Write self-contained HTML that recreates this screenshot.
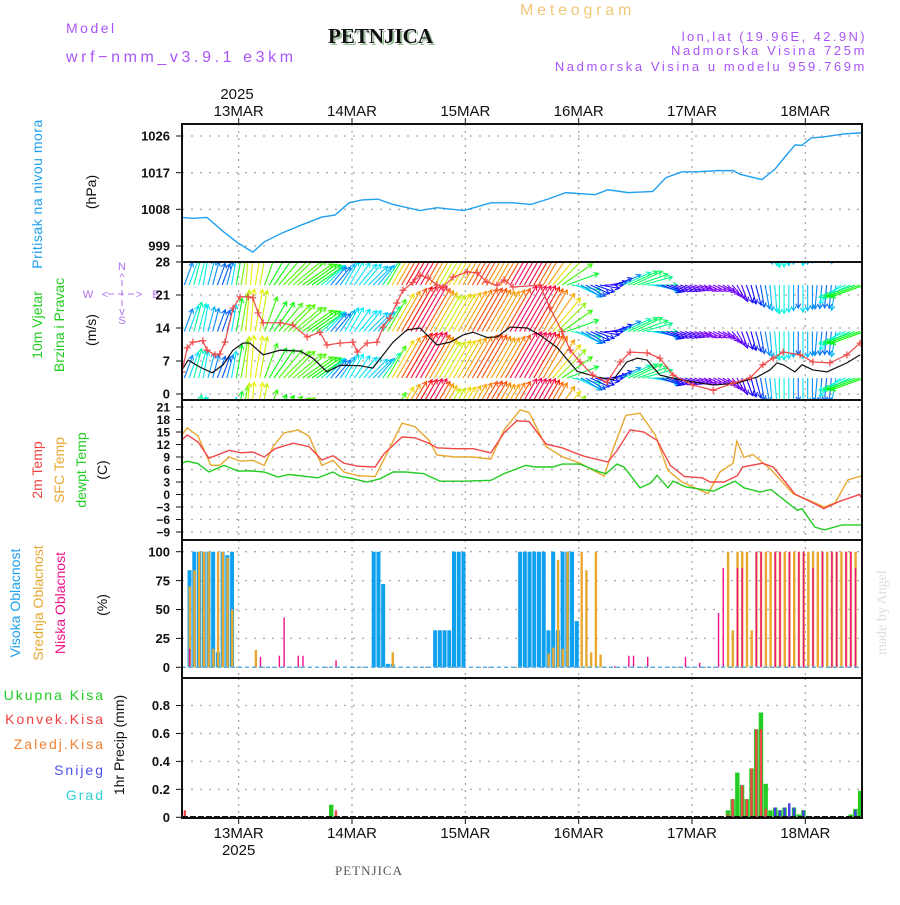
<!DOCTYPE html>
<html><head><meta charset="utf-8">
<style>
html,body{margin:0;padding:0;background:#fff;}
body{width:900px;height:900px;overflow:hidden;font-family:"Liberation Sans",sans-serif;}
svg text{font-family:"Liberation Sans",sans-serif;}
</style></head>
<body>
<svg id="chart" width="900" height="900" viewBox="0 0 900 900" xmlns="http://www.w3.org/2000/svg">
<defs>
<clipPath id="c1"><rect x="182" y="124" width="680" height="138"/></clipPath>
<clipPath id="c2"><rect x="182" y="262" width="680" height="138"/></clipPath>
<clipPath id="c3"><rect x="182" y="400" width="680" height="140"/></clipPath>
<clipPath id="c4"><rect x="182" y="540" width="680" height="138"/></clipPath>
<clipPath id="c5"><rect x="182" y="678" width="680" height="140"/></clipPath>
</defs>
<g>
<text x="520" y="15" font-size="16" fill="#f0c878" letter-spacing="3.8">Meteogram</text>
<text x="66" y="33" font-size="14" fill="#a855f7" letter-spacing="2.5">Model</text>
<text x="66" y="62" font-size="16" fill="#a855f7" letter-spacing="3.6">wrf−nmm_v3.9.1 e3km</text>
<text x="330" y="45" font-size="21" font-weight="bold" fill="#9fc09f" style="font-family:'Liberation Serif',serif">PETNJICA</text>
<text x="328" y="43" font-size="21" font-weight="bold" fill="#111" style="font-family:'Liberation Serif',serif">PETNJICA</text>
<text x="867" y="41" font-size="13" fill="#a855f7" text-anchor="end" letter-spacing="2.4">lon,lat (19.96E, 42.9N)</text>
<text x="867" y="55" font-size="13" fill="#a855f7" text-anchor="end" letter-spacing="2.6">Nadmorska Visina 725m</text>
<text x="867" y="71" font-size="13" fill="#a855f7" text-anchor="end" letter-spacing="2.6">Nadmorska Visina u modelu 959.769m</text>
<text x="237" y="99" font-size="15" fill="#111" text-anchor="middle">2025</text>
<text x="369" y="875" font-size="13" fill="#555" text-anchor="middle" style="font-family:'Liberation Serif',serif" letter-spacing="1">PETNJICA</text>
<text transform="translate(886,655) rotate(-90)" font-size="14" fill="#ddd" style="font-family:'Liberation Serif',serif">made by Angel</text>
</g>
<g>
<text transform="translate(42,194) rotate(-90)" font-size="14" fill="#1ea0f0" text-anchor="middle" letter-spacing="0.5">Pritisak na nivou mora</text>
<text transform="translate(96,192) rotate(-90)" font-size="14" fill="#111" text-anchor="middle">(hPa)</text>
<text transform="translate(42,325) rotate(-90)" font-size="14" fill="#22cc22" text-anchor="middle">10m Vjetar</text>
<text transform="translate(64,325) rotate(-90)" font-size="14" fill="#22cc22" text-anchor="middle">Brzina i Pravac</text>
<text transform="translate(96,330) rotate(-90)" font-size="14" fill="#111" text-anchor="middle">(m/s)</text>
<g fill="#b070f0" font-size="11" text-anchor="middle" stroke="none">
<text x="122" y="270">N</text><text x="122" y="324">S</text><text x="88" y="298">W</text><text x="156" y="298">E</text>
<text x="122" y="281">^</text><text x="122" y="315">v</text><text x="105" y="298">&lt;</text><text x="139" y="298">&gt;</text>
<line x1="122" y1="280" x2="122" y2="310" stroke="#b070f0" stroke-dasharray="6,4"/>
<line x1="108" y1="294" x2="136" y2="294" stroke="#b070f0" stroke-dasharray="6,4"/>
</g>
<text transform="translate(42,470) rotate(-90)" font-size="14" fill="#f04040" text-anchor="middle">2m Temp</text>
<text transform="translate(64,470) rotate(-90)" font-size="14" fill="#e8a830" text-anchor="middle">SFC Temp</text>
<text transform="translate(86,470) rotate(-90)" font-size="14" fill="#22cc22" text-anchor="middle">dewpt Temp</text>
<text transform="translate(107,470) rotate(-90)" font-size="14" fill="#111" text-anchor="middle">(C)</text>
<text transform="translate(20,603) rotate(-90)" font-size="14" fill="#1ea0f0" text-anchor="middle">Visoka Oblacnost</text>
<text transform="translate(43,603) rotate(-90)" font-size="14" fill="#e8a830" text-anchor="middle">Srednja Oblacnost</text>
<text transform="translate(65,603) rotate(-90)" font-size="14" fill="#f0108a" text-anchor="middle">Niska Oblacnost</text>
<text transform="translate(107,605) rotate(-90)" font-size="14" fill="#111" text-anchor="middle">(%)</text>
<text x="105" y="700" font-size="14" fill="#22cc22" text-anchor="end" letter-spacing="2">Ukupna Kisa</text>
<text x="105" y="724" font-size="14" fill="#f04040" text-anchor="end" letter-spacing="2">Konvek.Kisa</text>
<text x="105" y="749" font-size="14" fill="#f08030" text-anchor="end" letter-spacing="2">Zaledj.Kisa</text>
<text x="105" y="775" font-size="14" fill="#5050f0" text-anchor="end" letter-spacing="2">Snijeg</text>
<text x="105" y="800" font-size="14" fill="#30d0d0" text-anchor="end" letter-spacing="2">Grad</text>
<text transform="translate(124,745) rotate(-90)" font-size="14" fill="#111" text-anchor="middle">1hr Precip (mm)</text>
</g>
<g id="plots"></g>
</svg>
<script>
// ---------- data ----------
const dayLabels = ["13MAR","14MAR","15MAR","16MAR","17MAR","18MAR"];
const dayHours = [12,36,60,84,108,132];
const presTicks = [999,1008,1017,1026];
const windTicks = [0,7,14,21,28];
const tempTicks = [-9,-6,-3,0,3,6,9,12,15,18,21];
const cloudTicks = [0,25,50,75,100];
const precipTicks = [0,0.2,0.4,0.6,0.8];

const presHours = [0,2.3,5.3,8.9,11.9,15,17.4,21.2,25.4,29.6,32.4,35.4,38.1,41.5,44.7,50.4,54,59.7,65.4,70.1,73.9,77.7,81.3,87.5,90.2,94.5,99.7,102.5,105.9,109.1,113.3,116.7,118.2,122.8,125.6,127.5,129.8,131.3,133.2,136,140.2,144];
const presVals = [1006,1005.8,1006,1002.4,999.7,997.5,1000,1002.2,1004.2,1006.1,1006.6,1009.6,1010.3,1010.5,1009.2,1007.7,1008.4,1007.7,1009.6,1009.6,1009.2,1010.6,1012.1,1011.6,1012.8,1012.1,1012.4,1015.8,1017.2,1017.2,1017.5,1017.5,1016.6,1015.3,1017.9,1020.6,1023.8,1023.7,1025.5,1025.8,1026.5,1026.8];

const speedHours = [0,1.3,3.8,6.4,8.7,10.8,12.9,14.4,17.2,20.8,25,27.7,30.7,33.5,37.7,40.4,42.6,44.7,47.6,50.4,52.5,54,56.8,59.5,61.6,64.6,66.7,69.5,73.1,75.8,79.4,83.7,87.9,91.3,94.2,96.4,98.5,101.2,105.5,112.5,117.5,121.8,124.5,126,127.3,129.8,131.3,133.6,136.6,140.8,143.6];
const speedVals = [5.1,7.2,5.7,4.5,6.2,9.3,10.8,10.8,8.3,9.3,9.1,7.6,4.7,6.1,6,5.5,8.3,11,13.6,14,11.9,10.4,11,12.5,13.1,12,12.1,14.2,14,12.5,9.9,4.8,3.6,3,6.8,7.6,7.2,4,3,1.9,2.3,3.6,5.1,6.6,6.2,4.7,6.2,5.1,4.7,6.6,8.3];
const gustHours = [0,1.1,2.3,4.4,5.3,7,8,9.1,10.8,12.3,14,15,16.1,17.2,20.8,23.5,26.5,29.2,30.7,33.5,36.2,37.1,39.2,41.3,42.6,44,45.5,46.8,48.9,50.4,52.1,54,55.3,57.4,60.4,62.5,64.6,66.7,68.2,70.1,75.8,77.9,80.5,82.2,84.3,87,90,92.8,94.9,98.5,101.2,104,108.2,112.5,116.7,120.3,123,125.2,127.3,130.9,133.6,137.2,140.8,143.6];
const gustVals = [4.7,9.8,11,11.3,9.3,8.3,8.5,11,18.2,20.6,20.6,20.4,17.2,15.1,15.1,14.6,12.1,13.1,10.4,10.8,11,8.9,10.8,11,14.2,16.1,19.3,22,23.7,25.2,24.6,23.1,22.7,24.8,25.9,25.7,23.7,23.1,24.2,22.7,23.1,18.3,13.2,9.3,6.8,4,2.5,6.8,8.9,8.7,7.6,4,1.9,0.8,2.3,3.4,6.2,7.6,8.9,8.3,6.8,6.6,8.3,10.8];

// hourly arrow data (speed m/s, direction toward, degrees clockwise from north)
const arrowSpd = [5,6,7,6.5,6,5.5,5,4.7,4.5,5,6, 8,9.5,10.5,10.8,10.8,10.5,9,8.3,8.5,9, 9.3,9.3,9.2,9.1,9,8.8,8.5,8,7,6, 5,4.8,5.5,6,6.1,6,6,6,5.8,5.6,5.5, 7,9,11,12,13,13.6,13.8,14,14, 13,12.2,11.5,10.5,10.5,11,11,11.5,12,12.5, 13,13.1,13,12.5,12,12,12.5,13,14,14.2, 14,14,14,13.5,12.8,12.5,12,11,10,9, 8,7,6,5,4.5,4,3.8,3.6,3.3,3, 3.5,5,6.8,7.5,7.6,7.5,7.2,7,6,5, 4,3.5,3,3,3,2.8,2.5,2.2,2,1.9, 1.9,1.9,2,2.1,2.2,2.3,2.5,3,3.4,3.6, 4,4.5,5,5.5,6,6.5,6.4,6,5.5,4.7, 6,5.5,5.1,5,4.9,4.7,4.8,5.5,6.2,6.6, 7,7.6,8.3,8.5];
const arrowDir = [20,20,15,15,10,15,15,20,20,15,10, 10,10,5,5,10,10,20,30,35,40, 45,45,50,50,55,55,55,55,50,45, 40,40,35,30,30,35,40,40,45,45,40, 35,30,30,30,30,30,30,30,30, 30,30,30,30,30,30,30,30,30,30, 30,30,30,30,30,30,30,30,30,30, 30,30,30,30,30,30,35,40,45,55, 70,100,115,120,120,115,110,100,90,80, 70,65,65,65,65,70,75,90,100,105, 110,110,110,110,110,110,110,110,110,115, 115,115,115,120,130,140,150,160,160,165, 165,170,170,175,175,180,180,180,180,180, 180,180,180,185,185,185,185,190,230,245, 245,250,250,250];

const t2Hours = [0,1.1,3.4,5.7,10,12.5,15,17.4,19.7,23.5,26.9,29.6,32,34.3,37.3,40.9,42.8,46.6,49.3,52.3,54,57.8,61.6,65.4,68.2,70.9,73.5,77.1,80.5,83.2,85.1,90.2,92.1,94.9,97.8,100.6,103.4,106.4,110.2,111.8,114.8,117.6,118.7,122.9,125.2,129.8,133.6,135.9,139.1,143.5,144];
const t2Vals = [13.1,14.3,12.6,8.7,10.6,10,10.2,9,11,12.3,11.5,8.3,9.3,7.5,6.8,6.6,9.8,13.8,13.6,12.3,11.2,11,11,10,14.8,17.7,17.5,12.1,11.2,10,9.2,7.8,10.5,15.5,15,13,7,4.3,4,3,3,4.5,6.6,7.5,6.6,0.1,-2,-3.4,-1.7,0,-1];
const sfcHours = [0,1.1,3.4,6.1,8,10,12.3,15,17.4,19.3,21.6,24.6,26.9,29.6,32,34.3,37.3,40.9,42.8,46.6,49.3,52.3,54,57.8,61.6,65.4,68.2,71.6,73.5,77.1,80.5,84.3,89.4,91.3,94,97,100.2,102.9,105.9,111.4,113.9,116.7,117.5,119,120.9,124.7,129.4,133.2,136,138.3,141,144];
const sfcVals = [14.3,16,14,7,7,9,8,8.2,7,11.5,14.8,15.5,14,7,8.2,5.4,4.5,4.3,8.5,17.1,16.3,13,9.5,9,9,8.5,15.5,20.3,19.7,11.5,9.1,7.5,4.4,11,19,19.5,14.3,5.8,3,0.2,5.4,7.5,12.8,8.9,9.6,6,0.2,-1.6,-3,-2,3.5,4.5];
const dewHours = [0,1.1,3.4,5.7,8.9,11.9,14.2,17.4,20.3,22.7,28.8,32,33.5,36.2,39.2,42,44.7,47.4,51.2,54.6,59.7,65.4,68.2,72.8,74.8,78.6,80.5,84.3,87.9,89.8,92.1,93.6,97,99.3,100.6,102.9,104,106.7,112.5,117.1,119,122.4,124.7,130.3,131.3,134,136,139.8,144];
const dewVals = [7.5,8,7.4,5.4,7,5.6,5.7,5.4,4.2,4.8,4,5.4,4.4,3.8,3,3.8,5.4,5.4,5,3.2,3.2,3.4,5,7,6.6,6.6,7.3,7.3,5.6,5,7.3,6.6,1.6,2.8,4.6,1.6,3.2,1.8,0.8,3.2,1.6,0.6,1.2,-3.8,-3.4,-7.8,-8.5,-7.3,-7.3];

// hourly cloud cover (%) index 0..143
const highCloud = [0,84,100,100,100,100,100,13,100,97,100,0,0,0,0,0,0,0,0,0,0,0,0,0,0,0,0,0,0,0,0,0,0,0,0,0,0,0,0,0,100,100,72,3,3,0,0,0,0,0,0,0,0,32,32,32,32,100,100,100,0,0,0,0,0,0,0,0,0,0,0,100,100,100,100,100,100,32,100,32,100,100,100,40,0,0,0,0,0,0,0,0,0,0,0,0,0,0,0,0,0,0,0,0,0,0,0,0,0,0,0,0,0,0,0,0,0,0,0,0,0,0,0,0,0,0,0,0,0,0,0,0,0,0,0,0,0,0,0,0,0,0,0,0];
const midCloud = [0,70,84,100,100,100,16,100,100,95,50,0,0,0,0,15,0,0,0,0,0,0,0,0,0,0,0,0,0,0,0,0,0,0,0,0,0,0,0,0,0,0,0,0,13,0,0,0,0,0,0,0,0,0,0,0,0,0,0,0,0,0,0,0,0,0,0,0,0,0,0,0,0,0,0,0,0,12,17,93,16,100,0,0,100,84,13,100,11,0,0,0,0,0,0,0,0,0,0,0,0,0,0,0,0,0,0,0,0,0,0,0,0,0,0,100,32,100,100,100,32,100,100,100,100,100,100,100,100,100,100,100,100,100,100,100,100,100,100,100,100,100,100];
const lowCloud = [0,16,0,0,0,0,0,0,0,0,0,0,0,0,0,0,9,0,0,0,10,43,0,0,10,10,0,0,0,0,0,0,6,0,0,0,0,0,0,0,0,0,0,0,0,0,0,0,0,0,0,0,0,0,0,0,0,0,0,0,0,0,0,0,0,0,0,0,0,0,0,0,0,0,0,0,0,0,0,0,0,0,0,0,0,0,0,0,0,0,0,1,0,0,10,10,0,0,9,0,0,0,0,0,0,0,9,0,0,4,0,0,0,47,86,0,0,86,86,0,0,100,100,0,0,100,100,0,100,0,100,100,0,86,0,100,0,100,100,0,100,100,86,0];

// hourly precipitation (mm)
const precipHoursIdx = [0,31,32,115,116,117,118,119,120,121,122,123,124,125,126,127,128,129,130,131,132,141,142,143];
const totalPrecip = [0,0.09,0,0.05,0.13,0.32,0.23,0.13,0.35,0.63,0.75,0.24,0.05,0.07,0.05,0.07,0,0.07,0.02,0.05,0.01,0.02,0.06,0.19];
const convPrecip = [0.05,0,0.05,0.02,0.13,0,0.23,0.13,0.35,0.63,0.63,0.06,0,0,0,0,0,0,0,0,0,0,0,0];
const snowPrecip = [0,0,0,0,0,0,0,0,0,0,0,0,0,0.07,0.05,0.07,0.1,0.07,0,0.05,0,0,0.05,0];

// ---------- helpers ----------
const NS='http://www.w3.org/2000/svg';
const plots=document.getElementById('plots');
const X0=182,X1=862,HSPAN=144;
const xs=h=>X0+h*(X1-X0)/HSPAN;
function lin(v0,y0,v1,y1){return v=>y0+(v-v0)*(y1-y0)/(v1-v0);}
const yP=lin(999,246,1026,136);
const yW=lin(0,394,28,262);
const yT=lin(-9,532,21,407);
const yC=lin(0,667.3,100,551.7);
const yR=lin(0,817.3,0.8,705.5);
function mk(tag,attrs,parent){const e=document.createElementNS(NS,tag);for(const k in attrs)e.setAttribute(k,attrs[k]);(parent||plots).appendChild(e);return e;}
function grp(clip){const g=mk('g',clip?{'clip-path':'url(#'+clip+')'}:{});return g;}

const panels=[
 {name:'pressure-panel',y0:124,y1:262,ticks:presTicks,yf:yP,fmt:v=>v,fs:13,clip:'c1'},
 {name:'wind-panel',y0:262,y1:400,ticks:windTicks,yf:yW,fmt:v=>v,fs:13,clip:'c2'},
 {name:'temp-panel',y0:400,y1:540,ticks:tempTicks,yf:yT,fmt:v=>v<0?'−'+(-v):v,fs:12,clip:'c3'},
 {name:'cloud-panel',y0:540,y1:678,ticks:cloudTicks,yf:yC,fmt:v=>v,fs:13,clip:'c4'},
 {name:'precip-panel',y0:678,y1:818,ticks:precipTicks,yf:yR,fmt:v=>v,fs:13,clip:'c5'}
];
panels.forEach(p=>{
 const g=mk('g',{});
 
 
 p.ticks.forEach(v=>{
  const y=p.yf(v);
  mk('line',{x1:X0,x2:X1,y1:y,y2:y,stroke:'#aaa','stroke-dasharray':'2,7','stroke-width':1.3},g);
  mk('line',{x1:X0-6,x2:X0,y1:y,y2:y,stroke:'#111'},g);
  const t=mk('text',{x:X0-12,y:y+(p.fs*0.36),'font-size':p.fs,'text-anchor':'end',fill:'#111','font-weight':'bold'},g);
  
  
  t.textContent=p.fmt(v);
 });
 dayHours.forEach(h=>{
  mk('line',{x1:xs(h),x2:xs(h),y1:p.y0,y2:p.y1,stroke:'#aaa','stroke-dasharray':'2,5','stroke-width':1.3},g);
 });
});

// pressure line
(function(){
 const g=grp('c1');
 const pl=mk('polyline',{fill:'none',stroke:'#20a0f0','stroke-width':1.4,points:presHours.map((h,i)=>xs(h)+','+yP(presVals[i])).join(' ')},g);
 
 
})();

// wind arrows
function windColor(s){
 const stops=[[1.5,275],[3,255],[4.5,220],[6,185],[8,130],[10,85],[11,55],[12.5,30],[13.5,5],[14.5,-35]];
 let hue=stops[0][1];
 if(s>=stops[stops.length-1][0])hue=stops[stops.length-1][1];
 else for(let i=0;i<stops.length-1;i++){if(s>=stops[i][0]&&s<stops[i+1][0]){const f=(s-stops[i][0])/(stops[i+1][0]-stops[i][0]);hue=stops[i][1]+f*(stops[i+1][1]-stops[i][1]);break;}}
 hue=(hue+360)%360;
 return 'hsl('+hue.toFixed(0)+',95%,'+(hue>40&&hue<90?'48%':'50%')+')';
}
(function(){
 const g=grp('c2');
 
 
 const bases=[238.5,285,331.5,378,424.5];
 arrowSpd.forEach((s,i)=>{
  const h=i+0.5;
  const len=8+3.2*s;
  const a=arrowDir[i]*Math.PI/180;
  const dx=Math.sin(a)*len, dy=-Math.cos(a)*len;
  const col=windColor(s);
  bases.forEach(b=>{
   const x=xs(h), y=b, x2=x+dx, y2=y+dy;
   const ux=dx/len, uy=dy/len, hl=5;
   const hx1=x2-hl*(ux*0.87-uy*0.5), hy1=y2-hl*(uy*0.87+ux*0.5);
   const hx2=x2-hl*(ux*0.87+uy*0.5), hy2=y2-hl*(uy*0.87-ux*0.5);
   const p=mk('path',{d:'M'+x+','+y+'L'+x2+','+y2+'M'+hx1+','+hy1+'L'+x2+','+y2+'L'+hx2+','+hy2,stroke:col,'stroke-width':1.1,fill:'none'},g);
   
   
  });
 });
 const sl=mk('polyline',{fill:'none',stroke:'#111','stroke-width':1.2,points:speedHours.map((h,i)=>xs(h)+','+yW(speedVals[i])).join(' ')},g);
 
 
 const gl=mk('polyline',{fill:'none',stroke:'#f04848','stroke-width':1.2,points:gustHours.map((h,i)=>xs(h)+','+yW(gustVals[i])).join(' ')},g);
 
 
 gustHours.forEach((h,i)=>{
  const x=xs(h),y=yW(gustVals[i]);
  const m=mk('path',{d:'M'+(x-3.5)+','+y+'h7M'+x+','+(y-3.5)+'v7',stroke:'#f04848','stroke-width':1.2},g);
  
  
 });
})();

// temperature
(function(){
 const g=grp('c3');
 [[sfcHours,sfcVals,'#e8a830','sfc-temp-line'],[t2Hours,t2Vals,'#f04848','t2m-line'],[dewHours,dewVals,'#22cc22','dewpoint-line']].forEach(s=>{
  const pl=mk('polyline',{fill:'none',stroke:s[2],'stroke-width':1.4,points:s[0].map((h,i)=>xs(h)+','+yT(s[1][i])).join(' ')},g);
  
  
 });
})();

// clouds
(function(){
 const g=grp('c4');
 const y0=yC(0);
 highCloud.forEach((v,i)=>{ if(v<=0)return; const x=xs(i+0.6);
  const r=mk('rect',{x:x-2,y:yC(v),width:4,height:y0-yC(v),fill:'#10a0f0'},g);
  
  });
 midCloud.forEach((v,i)=>{ if(v<=0)return; const x=xs(i+0.6);
  const r=mk('rect',{x:x-1,y:yC(v),width:2.4,height:y0-yC(v),fill:'#e8a830'},g);
  
  });
 lowCloud.forEach((v,i)=>{ if(v<=0)return; const x=xs(i+0.6);
  const r=mk('rect',{x:x-0.6,y:yC(v),width:1.4,height:y0-yC(v),fill:'#f0108a'},g);
  
  });
 mk('line',{x1:X0,x2:X1,y1:y0,y2:y0,stroke:'#60b0e0','stroke-width':1.5,'stroke-dasharray':'4,3'},g);
})();

// precipitation
(function(){
 const g=grp('c5');
 const y0=yR(0);
 precipHoursIdx.forEach((hi,k)=>{
  const x=xs(hi+0.6);
  if(totalPrecip[k]>0){const r=mk('rect',{x:x-2.2,y:yR(totalPrecip[k]),width:4.4,height:y0-yR(totalPrecip[k]),fill:'#22cc22'},g);
   
   }
  if(convPrecip[k]>0){const r=mk('rect',{x:x-1.2,y:yR(convPrecip[k]),width:2.4,height:y0-yR(convPrecip[k]),fill:'#f04848'},g);
   
   }
  if(snowPrecip[k]>0){const r=mk('rect',{x:x-1.2,y:yR(snowPrecip[k]),width:2.4,height:y0-yR(snowPrecip[k]),fill:'#4040f0'},g);
   
   }
 });
 mk('line',{x1:X0,x2:X1,y1:y0,y2:y0,stroke:'#111','stroke-width':2.5,'stroke-dasharray':'6,2'},g);
})();

// frames and date axes
panels.forEach(p=>{
 const r=mk('rect',{x:X0,y:p.y0,width:X1-X0,height:p.y1-p.y0,fill:'none',stroke:'#111','stroke-width':2});
 
 
});
dayHours.forEach((h,i)=>{
 const x=xs(h);
 mk('line',{x1:x,x2:x,y1:118,y2:124,stroke:'#111'});
 mk('line',{x1:x,x2:x,y1:818,y2:824,stroke:'#111'});
 const t=mk('text',{x:x,y:116,'font-size':15,'text-anchor':'middle',fill:'#111'});
 
 
 t.textContent=dayLabels[i];
 const b=mk('text',{x:x,y:838,'font-size':15,'text-anchor':'middle',fill:'#111'});
 
 
 b.textContent=dayLabels[i];
});
const yb=mk('text',{x:xs(12),y:855,'font-size':15,'text-anchor':'middle',fill:'#111'});


yb.textContent='2025';
</script>
</body></html>
